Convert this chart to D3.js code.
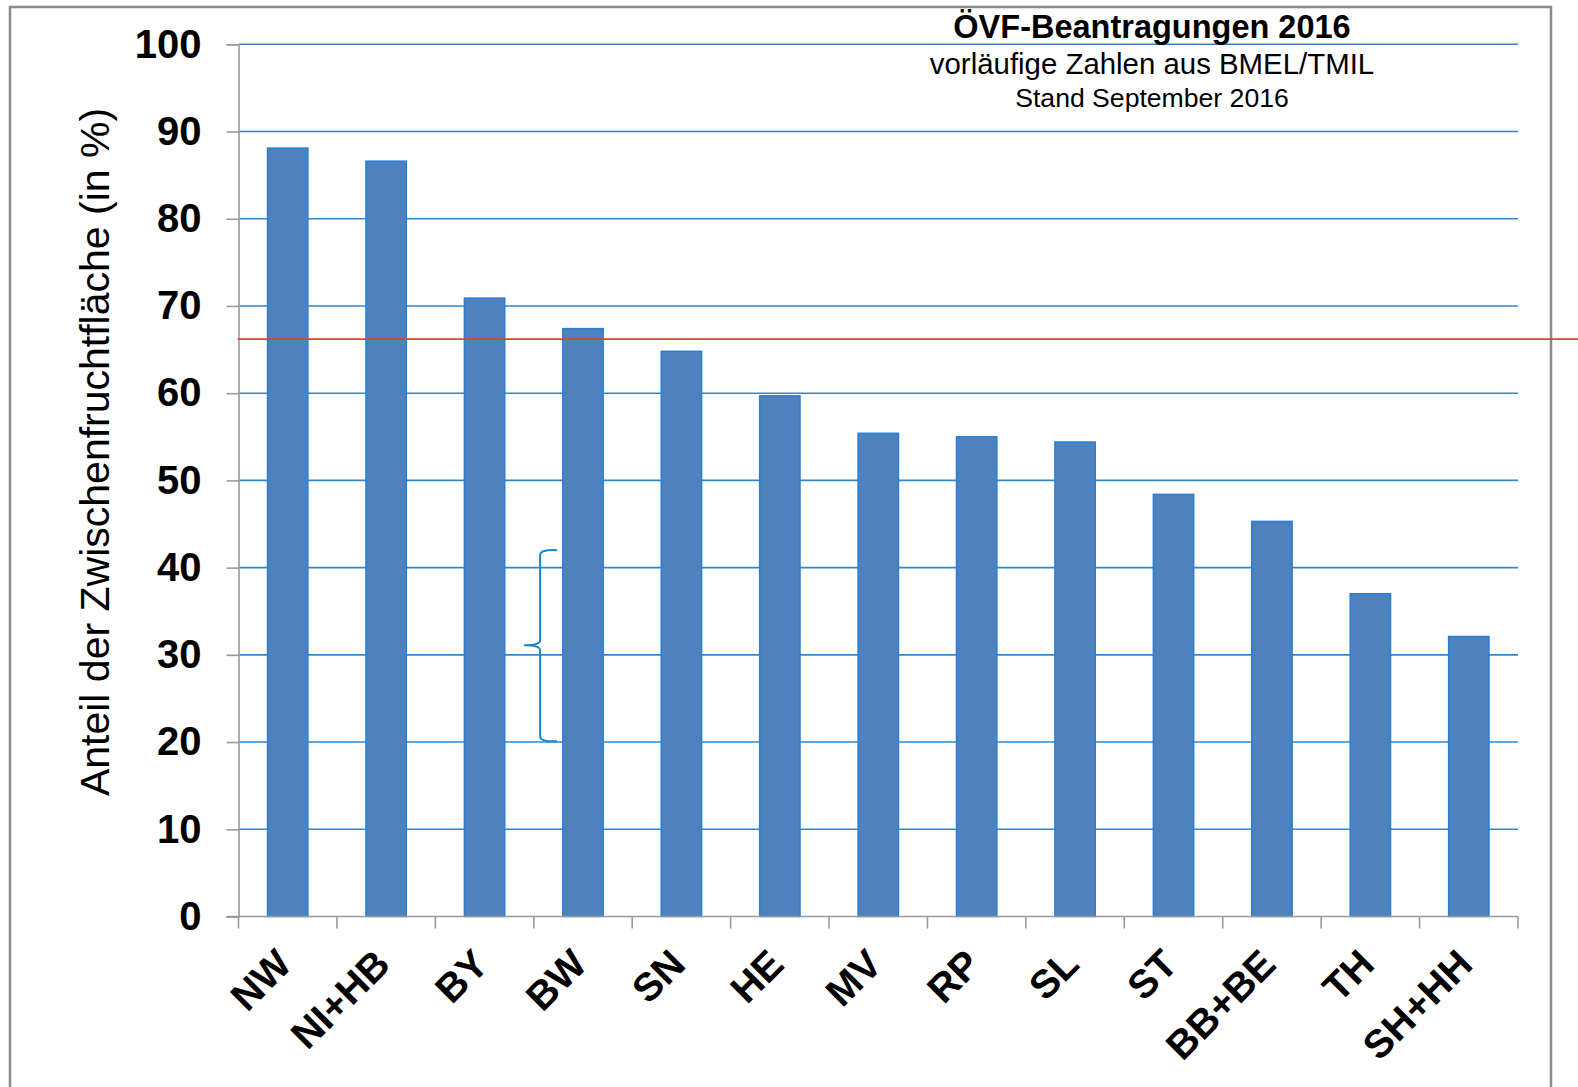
<!DOCTYPE html>
<html><head><meta charset="utf-8">
<script src="https://cdn.jsdelivr.net/npm/d3@7"></script>
<style>
html,body{margin:0;padding:0;background:#fff;overflow:hidden}
svg{display:block;font-family:"Liberation Sans",Arial,sans-serif}
</style></head>
<body>
<svg id="chart" width="1578" height="1087"></svg>
<script>
const categories = ["NW","NI+HB","BY","BW","SN","HE","MV","RP","SL","ST","BB+BE","TH","SH+HH"];
const values = [88.1, 86.6, 70.9, 67.4, 64.8, 59.7, 55.4, 55.0, 54.4, 48.4, 45.3, 37.0, 32.1];
const yTicks = [0,10,20,30,40,50,60,70,80,90,100];
const referenceLine = 66.2;
const braceRange = [20.1, 42.0];
const braceMid = 31.1;
const braceCategory = "BW";
const titleLines = ["ÖVF-Beantragungen 2016","vorläufige Zahlen aus BMEL/TMIL","Stand September 2016"];
const yLabel = "Anteil der Zwischenfruchtfläche (in %)";

const svg = d3.select("#chart");
const W = 1578, H = 1087;
const plot = {left:238.5, right:1518, top:44.3, bottom:916.5};

const x = d3.scaleBand().domain(categories).range([plot.left, plot.right])
  .paddingInner(0.59).paddingOuter(0.295);
const y = d3.scaleLinear().domain([0,100]).range([plot.bottom, plot.top]);

// frame
svg.append("rect").attr("x",10).attr("y",7).attr("width",1541).attr("height",1200)
  .attr("fill","none").attr("stroke","#8a8a8a").attr("stroke-width",2.5);

// gridlines
svg.append("g").selectAll("line").data(yTicks.filter(d=>d>0)).join("line")
  .attr("x1",plot.left).attr("x2",plot.right)
  .attr("y1",d=>y(d)).attr("y2",d=>y(d))
  .attr("stroke","#2f87d2").attr("stroke-width",1.6);

// y axis
const yAxis = svg.append("g").attr("transform",`translate(${plot.left},0)`)
  .call(d3.axisLeft(y).tickValues(yTicks).tickSize(12).tickPadding(25).tickFormat(d3.format("d")));
yAxis.select(".domain").attr("stroke","#9a9a9a").attr("stroke-width",1.6);
yAxis.selectAll(".tick line").attr("stroke","#9a9a9a").attr("stroke-width",1.6);
yAxis.selectAll(".tick text").attr("font-size",40).attr("font-weight","bold")
  .attr("fill","#000").attr("font-family","'Liberation Sans',Arial,sans-serif");

// bars
svg.append("g").selectAll("rect").data(categories).join("rect")
  .attr("x",d=>x(d)).attr("width",x.bandwidth())
  .attr("y",(d,i)=>y(values[i])).attr("height",(d,i)=>y(0)-y(values[i]))
  .attr("fill","#4f81bd").attr("stroke","#2a7fd4").attr("stroke-width",1.5);

// x axis
const step = x.step();
const boundaries = d3.range(categories.length+1).map(i=>plot.left + i*step);
const xg = svg.append("g");
xg.append("line").attr("x1",plot.left-12).attr("x2",plot.right)
  .attr("y1",y(0)).attr("y2",y(0)).attr("stroke","#9a9a9a").attr("stroke-width",1.6);
xg.selectAll("line.tk").data(boundaries).join("line").attr("class","tk")
  .attr("x1",d=>d).attr("x2",d=>d).attr("y1",y(0)).attr("y2",y(0)+12)
  .attr("stroke","#9a9a9a").attr("stroke-width",1.6);
xg.selectAll("text").data(categories).join("text")
  .attr("transform",d=>`translate(${x(d)+x.bandwidth()/2+6},${y(0)+50}) rotate(-45)`)
  .attr("text-anchor","end").attr("font-size",39.5).attr("font-weight","bold").attr("fill","#000")
  .text(d=>d);

// reference line
svg.append("line").attr("x1",plot.left-1).attr("x2",W)
  .attr("y1",y(referenceLine)).attr("y2",y(referenceLine))
  .attr("stroke","#e5412b").attr("stroke-width",1.8);

// brace
const bx = x(braceCategory) - 22.7;
const yt = y(braceRange[1]), yb = y(braceRange[0]), ym = y(braceMid);
const bp = d3.path();
bp.moveTo(bx+17, yt);
bp.quadraticCurveTo(bx, yt-1, bx, yt+5);
bp.lineTo(bx, ym-5);
bp.quadraticCurveTo(bx, ym, bx-16, ym);
bp.moveTo(bx-16, ym);
bp.quadraticCurveTo(bx, ym, bx, ym+5);
bp.lineTo(bx, yb-5);
bp.quadraticCurveTo(bx, yb+1, bx+17, yb);
svg.append("path").attr("d",bp.toString()).attr("fill","none")
  .attr("stroke","#1a86cc").attr("stroke-width",2);

// title
const tx = 1152;
svg.append("text").attr("x",tx).attr("y",38).attr("text-anchor","middle")
  .attr("font-size",32.5).attr("font-weight","bold").text(titleLines[0]);
svg.append("text").attr("x",tx).attr("y",74).attr("text-anchor","middle")
  .attr("font-size",29.4).text(titleLines[1]);
svg.append("text").attr("x",tx).attr("y",107).attr("text-anchor","middle")
  .attr("font-size",26.6).text(titleLines[2]);

// y label
svg.append("text").attr("transform",`translate(109,452) rotate(-90)`)
  .attr("text-anchor","middle").attr("font-size",41).text(yLabel);
</script>
</body></html>
